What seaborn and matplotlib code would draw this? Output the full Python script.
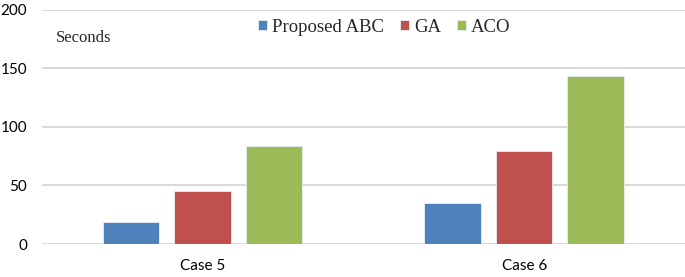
import matplotlib
matplotlib.use("Agg")
import matplotlib.pyplot as plt
import seaborn as sns
import pandas as pd

cases = ["Case 5", "Case 6"]
algorithms = ["Proposed ABC", "GA", "ACO"]
proposed_abc = [19, 35]
ga = [45, 79]
aco = [84, 143]
colors = ["#4F81BD", "#C0504D", "#9BBB59"]
y_ticks = [0, 50, 100, 150, 200]

rows = []
for alg, vals in zip(algorithms, [proposed_abc, ga, aco]):
    for c, v in zip(cases, vals):
        rows.append({"Case": c, "Algorithm": alg, "Seconds": v})
df = pd.DataFrame(rows)

sns.set_theme(style="white")
plt.rcParams["font.family"] = ["Lato", "DejaVu Sans"]

fig = plt.figure(figsize=(6.85, 2.77), dpi=100)
ax = fig.add_axes([41.6 / 685, 1 - 244 / 277, 1 - 41.6 / 685, (244 - 9.7) / 277])

sns.barplot(data=df, x="Case", y="Seconds", hue="Algorithm", hue_order=algorithms,
            order=cases, palette=colors, saturation=1, width=0.667, gap=0.21, ax=ax,
            edgecolor="#E8EEF5", linewidth=0.6, legend=True, zorder=3)

ax.set_ylim(0, 200)
ax.set_yticks(y_ticks)
ax.set_xlim(-0.5, 1.5)
ax.grid(axis="y", color="#D9D9D9", linewidth=1.4, zorder=0)
ax.set_axisbelow(True)
for s in ax.spines.values():
    s.set_visible(False)
ax.tick_params(axis="both", length=0, labelsize=11, colors="#000000")
ax.tick_params(axis="y", pad=10.5)
ax.tick_params(axis="x", pad=11)
ax.set_xlabel("")
ax.set_ylabel("")

handles, labels = ax.get_legend_handles_labels()
ax.get_legend().remove()
fig.legend(handles, labels, loc="center", bbox_to_anchor=(384 / 685, 1 - 27 / 277),
           ncol=3, frameon=False, prop={"family": "Liberation Serif", "size": 13.5},
           handlelength=0.5, handleheight=0.5, handletextpad=0.25, columnspacing=0.85,
           borderpad=0)

fig.text(56 / 685, 1 - 38 / 277, "Seconds", family="Liberation Serif", fontsize=12,
         ha="left", va="center")

fig.savefig("out.png", dpi=100)
